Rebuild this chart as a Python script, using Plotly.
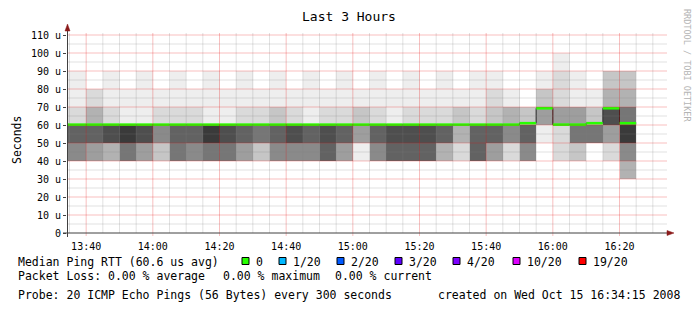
import plotly.graph_objects as go
import pandas as pd

# ---------------- data ----------------
graph_start = "2008-10-15 13:34:15"
graph_end = "2008-10-15 16:34:15"
# end time of each 5-minute smoke column (first column is clipped by graph start)
col_ends = [t.strftime("%Y-%m-%d %H:%M:%S") for t in
            pd.date_range("2008-10-15 13:40:00", "2008-10-15 16:25:00", freq="5min")]

# smoke depth (0 = no smoke, 10 = densest) for each 10 us band, per column
band_lower = [30, 40, 50, 60, 70, 80, 90]
band_30 = [0, 0, 0, 0, 0, 0, 0, 0, 0, 0, 0, 0, 0, 0, 0, 0, 0, 0, 0, 0,
           0, 0, 0, 0, 0, 0, 0, 0, 0, 0, 0, 0, 0, 4]
band_40 = [6, 5, 4, 7, 5, 3, 7, 6, 7, 7, 5, 3, 6, 6, 6, 8, 5, 1, 6, 8,
           8, 8, 4, 2, 8, 5, 2, 6, 0, 2, 3, 0, 2, 6]
band_50 = [8, 8, 9, 10, 9, 6, 8, 8, 10, 9, 8, 7, 8, 9, 8, 9, 8, 5, 8, 9,
           9, 9, 8, 4, 8, 8, 6, 8, 1, 2, 7, 7, 5, 10]
band_60 = [2, 4, 2, 1, 1, 2, 2, 2, 1, 1, 2, 2, 3, 2, 1, 2, 2, 3, 2, 1,
           2, 2, 2, 3, 2, 3, 4, 3, 5, 5, 5, 3, 9, 7]
band_70 = [1, 2, 1, 1, 1, 1, 1, 1, 1, 1, 1, 1, 1, 1, 1, 1, 1, 1, 1, 1,
           1, 1, 1, 1, 1, 2, 1, 0, 3, 2, 1, 1, 4, 4]
band_80 = [1, 0, 1, 0, 1, 0, 1, 0, 1, 0, 1, 0, 1, 0, 1, 0, 1, 0, 1, 0,
           1, 0, 1, 0, 1, 1, 0, 0, 1, 2, 1, 0, 3, 3]
band_90 = [0, 0, 0, 0, 0, 0, 0, 0, 0, 0, 0, 0, 0, 0, 0, 0, 0, 0, 0, 0,
           0, 0, 0, 0, 0, 0, 0, 0, 0, 1, 0, 0, 0, 0]

# median RTT (us) per column
median_rtt = [60.2, 60.2, 60.2, 60.2, 60.2, 60.2, 60.2, 60.2, 60.2, 60.2,
              60.2, 60.2, 60.2, 60.2, 60.2, 60.2, 60.2, 60.2, 60.2, 60.2,
              60.2, 60.2, 60.2, 60.2, 60.2, 60.2, 60.2, 61.0, 69.3, 60.2,
              60.2, 61.0, 69.3, 61.0]

y_ticks = [0, 10, 20, 30, 40, 50, 60, 70, 80, 90, 100, 110]
y_ticktext = ["0", "10 u", "20 u", "30 u", "40 u", "50 u", "60 u", "70 u",
              "80 u", "90 u", "100 u", "110 u"]
x_ticks = ["2008-10-15 13:40", "2008-10-15 14:00", "2008-10-15 14:20",
           "2008-10-15 14:40", "2008-10-15 15:00", "2008-10-15 15:20",
           "2008-10-15 15:40", "2008-10-15 16:00", "2008-10-15 16:20"]
x_ticktext = ["13:40", "14:00", "14:20", "14:40", "15:00", "15:20",
              "15:40", "16:00", "16:20"]

loss_labels = ["0", "1/20", "2/20", "3/20", "4/20", "10/20", "19/20"]
loss_colors = ["#26ff00", "#00b8ff", "#0059ff", "#5e00ff", "#7e00ff",
               "#dd00ff", "#ff0000"]

# ---------------- figure ----------------
MONO = "DejaVu Sans Mono"
L, T, W, H = 67, 33, 600, 200
FIG_W, FIG_H = 697, 313


def px(x):
    return (x - L) / W


def py(y):
    return (T + H - y) / H


edges = [graph_start] + col_ends
bands = [band_30, band_40, band_50, band_60, band_70, band_80, band_90]
z = [[(v if v > 0 else None) for v in b] for b in bands]
y_edges = band_lower + [band_lower[-1] + 10]

fig = go.Figure()
fig.add_trace(go.Heatmap(
    x=edges, y=y_edges, z=z, zmin=1, zmax=10,
    colorscale=[[0, "rgb(238,238,238)"], [1, "rgb(58,58,58)"]],
    showscale=False, hoverinfo="skip", zsmooth=False,
))

# black median step line
fig.add_trace(go.Scatter(
    x=edges, y=median_rtt + [median_rtt[-1]], mode="lines",
    line=dict(color="#202020", width=1, shape="hv"), hoverinfo="skip",
    showlegend=False,
))
# green (0 loss) median segments
gx, gy = [], []
for i, m in enumerate(median_rtt):
    gx += [edges[i], edges[i + 1], None]
    gy += [m, m, None]
fig.add_trace(go.Scatter(
    x=gx, y=gy, mode="lines", line=dict(color="#26ff00", width=2.6),
    hoverinfo="skip", showlegend=False, connectgaps=False,
))

shapes = []
MINOR = "rgba(128,128,128,0.24)"
MAJOR = "rgba(230,20,20,0.27)"
# vertical grid
for t in pd.date_range("2008-10-15 13:35", "2008-10-15 16:30", freq="5min"):
    major = t.minute % 20 == 0
    shapes.append(dict(type="line", xref="x", yref="paper",
                       x0=t.strftime("%Y-%m-%d %H:%M"), x1=t.strftime("%Y-%m-%d %H:%M"),
                       y0=(-3 / H if major else 0), y1=1, layer="above",
                       line=dict(color=MAJOR if major else MINOR, width=1)))
# horizontal grid
for v in range(5, 115, 5):
    major = v % 10 == 0
    shapes.append(dict(type="line", xref="paper", yref="y", x0=0, x1=1,
                       y0=v, y1=v, layer="above",
                       line=dict(color=MAJOR if major else MINOR, width=1)))
# axes with arrows
AX = "#404040"
ARROW = "#8b1a1a"
shapes.append(dict(type="line", xref="paper", yref="paper",
                   x0=px(L + 0.5), x1=px(L + 0.5), y0=py(237), y1=py(27),
                   line=dict(color=AX, width=1), layer="above"))
shapes.append(dict(type="line", xref="paper", yref="paper",
                   x0=px(63), x1=px(669), y0=py(233), y1=py(233),
                   line=dict(color=AX, width=1), layer="above"))
shapes.append(dict(type="path", xref="paper", yref="paper", layer="above",
                   path=f"M {px(L + 0.5)},{py(24)} L {px(L - 2)},{py(31)} L {px(L + 3)},{py(31)} Z",
                   fillcolor=ARROW, line=dict(color=ARROW, width=0.5)))
shapes.append(dict(type="path", xref="paper", yref="paper", layer="above",
                   path=f"M {px(674)},{py(233)} L {px(667)},{py(230.5)} L {px(667)},{py(235.5)} Z",
                   fillcolor=ARROW, line=dict(color=ARROW, width=0.5)))

annotations = []


def text(x, y, s, size=11.5, anchor="left", color="black", angle=0):
    annotations.append(dict(x=px(x), y=py(y), xref="paper", yref="paper",
                            text=s, showarrow=False, xanchor=anchor,
                            yanchor="middle", textangle=angle,
                            font=dict(family=MONO, size=size, color=color)))


text(348.5, 16, "Last 3 Hours", size=13, anchor="center")
text(17, 140, "Seconds", size=11.5, anchor="center", angle=-90)
text(687, 65, "RRDTOOL / TOBI OETIKER", size=8.5, anchor="center",
     color="#b4b4b4", angle=90)

text(15.5, 261.5, "Median Ping RTT (60.6 us avg)")
box_left = [242, 279, 337, 395, 453, 513, 579]
for bx, lab, col in zip(box_left, loss_labels, loss_colors):
    shapes.append(dict(type="rect", xref="paper", yref="paper",
                       x0=px(bx), x1=px(bx + 7), y0=py(264.5), y1=py(257.5),
                       fillcolor=col, line=dict(color="black", width=1),
                       layer="above"))
    text(bx + 11.5, 261.5, lab)

text(15.5, 275.5, "Packet Loss: 0.00 % average")
text(220.5, 275.5, "0.00 % maximum")
text(332.5, 275.5, "0.00 % current")
text(15.5, 295, "Probe: 20 ICMP Echo Pings (56 Bytes) every 300 seconds")
text(682, 295, "created on Wed Oct 15 16:34:15 2008", anchor="right")

fig.update_layout(
    width=FIG_W, height=FIG_H,
    margin=dict(l=L, r=FIG_W - L - W, t=T, b=FIG_H - T - H, pad=0),
    paper_bgcolor="white", plot_bgcolor="white",
    showlegend=False, shapes=shapes, annotations=annotations,
    xaxis=dict(type="date", range=[graph_start, graph_end], showgrid=False,
               zeroline=False, showline=False, ticks="outside", ticklen=4,
               tickcolor="rgba(0,0,0,0)",
               tickvals=x_ticks, ticktext=x_ticktext,
               tickfont=dict(family=MONO, size=10, color="black"), fixedrange=True),
    yaxis=dict(range=[0, H / 1.8], showgrid=False, zeroline=False,
               showline=False, ticks="outside", ticklen=3, tickcolor=AX,
               tickvals=y_ticks, ticktext=y_ticktext,
               tickfont=dict(family=MONO, size=10, color="black"), fixedrange=True),
)

fig.write_html("out.html")
